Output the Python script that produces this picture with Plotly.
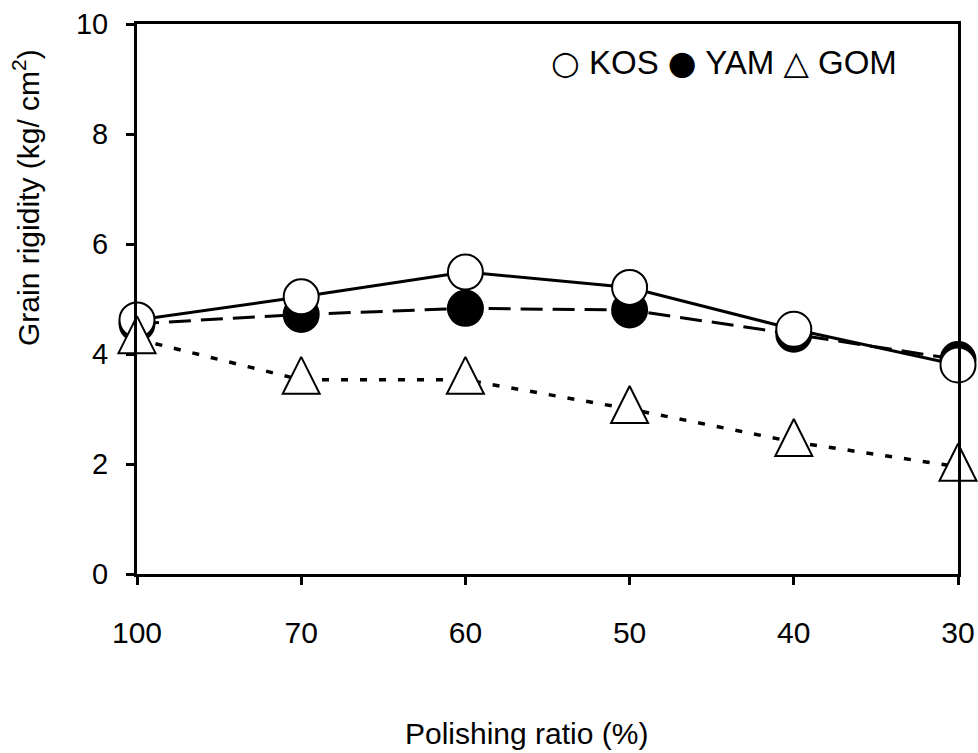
import plotly.graph_objects as go

# Polishing ratio categories (%) and grain rigidity (kg/cm2) per cultivar
polishing_ratio = ["100", "70", "60", "50", "40", "30"]
kos = [4.62, 5.04, 5.49, 5.21, 4.45, 3.80]
yam = [4.55, 4.72, 4.83, 4.80, 4.36, 3.90]
gom = [4.27, 3.53, 3.53, 3.00, 2.40, 1.95]

y_ticks = [0, 2, 4, 6, 8, 10]

FONT = "Liberation Sans, Arial, sans-serif"
SYM = "font-family:DejaVu Sans"
W, H = 978, 753
L, R, T, B = 137, 20, 24, 179
PW, PH = W - L - R, H - T - B


def px_x(px):
    return (px - L) / PW


def px_y(py):
    return (H - B - py) / PH


# triangle apex sits above the value so the symbol is centred on the dotted line
tri_size = 37
tri_shift = 23 / (PH / 10)

fig = go.Figure()

fig.add_trace(go.Scatter(
    x=polishing_ratio, y=gom, mode="lines",
    line=dict(color="black", width=3.5, dash="7px,12px"),
    cliponaxis=False, showlegend=False, hoverinfo="skip",
))
fig.add_trace(go.Scatter(
    x=polishing_ratio, y=gom, mode="markers", yaxis="y2", name="GOM",
    marker=dict(symbol="arrow-up", size=tri_size, color="white",
                line=dict(color="black", width=2)),
    cliponaxis=False, showlegend=False,
))
fig.add_trace(go.Scatter(
    x=polishing_ratio, y=yam, mode="lines+markers", name="YAM",
    line=dict(color="black", width=3, dash="22px,10px"),
    marker=dict(symbol="circle", size=35, color="black",
                line=dict(color="black", width=2)),
    cliponaxis=False, showlegend=False,
))
fig.add_trace(go.Scatter(
    x=polishing_ratio, y=kos, mode="lines+markers", name="KOS",
    line=dict(color="black", width=3),
    marker=dict(symbol="circle", size=35, color="white",
                line=dict(color="black", width=2)),
    cliponaxis=False, showlegend=False,
))

legend_text = (
    f'<span style="{SYM}">○</span> KOS '
    f'<span style="{SYM}">●</span> YAM '
    f'<span style="{SYM}">△</span> GOM'
)

fig.update_layout(
    width=W, height=H,
    margin=dict(l=L, r=R, t=T, b=B, autoexpand=False),
    paper_bgcolor="white", plot_bgcolor="white",
    font=dict(family=FONT, color="black"),
    showlegend=False,
    xaxis=dict(
        type="category", categoryorder="array", categoryarray=polishing_ratio,
        range=[0, len(polishing_ratio) - 1], automargin=False,
        showgrid=False, zeroline=False,
        showline=True, linecolor="black", linewidth=3, mirror=True,
        ticks="outside", ticklen=8, tickwidth=2.5, tickcolor="black",
        tickfont=dict(family=FONT, size=30, color="black"),
        ticklabelstandoff=22,
    ),
    yaxis=dict(
        range=[0, 10], tickvals=y_ticks, automargin=False,
        showgrid=False, zeroline=False,
        showline=True, linecolor="black", linewidth=3, mirror=True,
        ticks="outside", ticklen=8, tickwidth=2.5, tickcolor="black",
        tickfont=dict(family=FONT, size=29, color="black"),
        ticklabelstandoff=12,
    ),
    yaxis2=dict(
        overlaying="y", range=[-tri_shift, 10 - tri_shift], automargin=False,
        visible=False, showgrid=False, zeroline=False,
    ),
    annotations=[
        dict(text="Grain rigidity (kg/ cm<sup>2</sup>)", textangle=-90,
             xref="paper", yref="paper", x=px_x(26), y=px_y(198),
             xanchor="center", yanchor="middle", showarrow=False,
             font=dict(family=FONT, size=30, color="black")),
        dict(text="Polishing ratio (%)",
             xref="paper", yref="paper", x=px_x(526), y=px_y(733),
             xanchor="center", yanchor="middle", showarrow=False,
             font=dict(family=FONT, size=30, color="black")),
        dict(text=legend_text,
             xref="paper", yref="paper", x=px_x(724), y=px_y(62),
             xanchor="center", yanchor="middle", showarrow=False,
             font=dict(family=FONT, size=33, color="black")),
    ],
)

fig.write_html("out.html")
